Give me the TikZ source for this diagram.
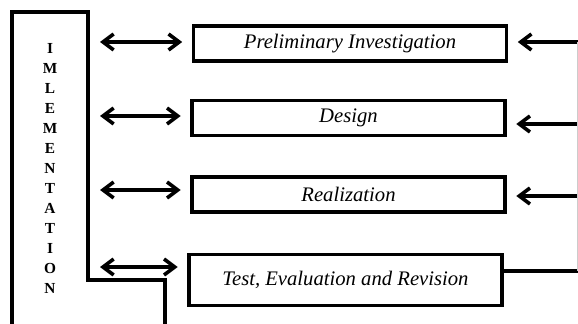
\documentclass[tikz,border=0pt]{standalone}
\usepackage{fontspec}
\setmainfont{Liberation Serif}
\usetikzlibrary{arrows.meta,positioning}

\begin{document}
\begin{tikzpicture}[
  x=0.75pt, y=-0.75pt,
  stage/.style={draw, line width=2.7pt, minimum width=235pt, minimum height=26pt, inner sep=0pt, font=\fontsize{15.5}{18}\selectfont\itshape, align=center},
  impl/.style={font=\fontsize{11.5}{15}\selectfont\bfseries, align=center, inner sep=0pt},
  arr/.style={-{Straight Barb[length=8pt,width=12pt]}, line width=2.7pt, shorten >=7pt},
  darr/.style={{Straight Barb[length=8pt,width=12pt]}-{Straight Barb[length=8pt,width=12pt]}, line width=2.7pt, shorten >=7pt},
  link/.style={line width=2.7pt},
]
\useasboundingbox (0,0) rectangle (578,324);

% Implementation bar
\draw[link, line join=miter] (12,330) -- (12,12) -- (88,12) -- (88,280) -- (165,280) -- (165,330);
\node[impl] (impl) at (50,168) {I\\M\\L\\E\\M\\E\\N\\T\\A\\T\\I\\O\\N};

% Stages
\node[stage] (prelim) at (350,43.5) {Preliminary Investigation};
\node[stage] (design) at (348.5,118) {Design};
\node[stage] (real) at (348.5,194.5) {Realization};
\node[stage, minimum height=38pt] (test) at (345.5,280) {Test, Evaluation and Revision};

% Ends of the connectors
\coordinate (l1) at (100,42);
\coordinate (l2) at (100,116);
\coordinate (l3) at (100,190);
\coordinate (l4) at (100,267);
\coordinate (r1) at (578,42);
\coordinate (r2) at (578,124);
\coordinate (r3) at (578,196);
\coordinate (r4) at (578,271);

% Arrows
\draw[darr] (l1) -- (l1 -| prelim.west);
\draw[darr] (l2) -- (l2 -| design.west);
\draw[darr] (l3) -- (l3 -| real.west);
\draw[darr] (l4) -- (l4 -| test.west);
\draw[arr] (r1) -- (r1 -| prelim.east);
\draw[arr] (r2) -- (r2 -| design.east);
\draw[arr] (r3) -- (r3 -| real.east);
\draw[link] (r4) -- (r4 -| test.east);
\draw[line width=1pt, black!20] (r1) -- (r4);
\end{tikzpicture}
\end{document}
